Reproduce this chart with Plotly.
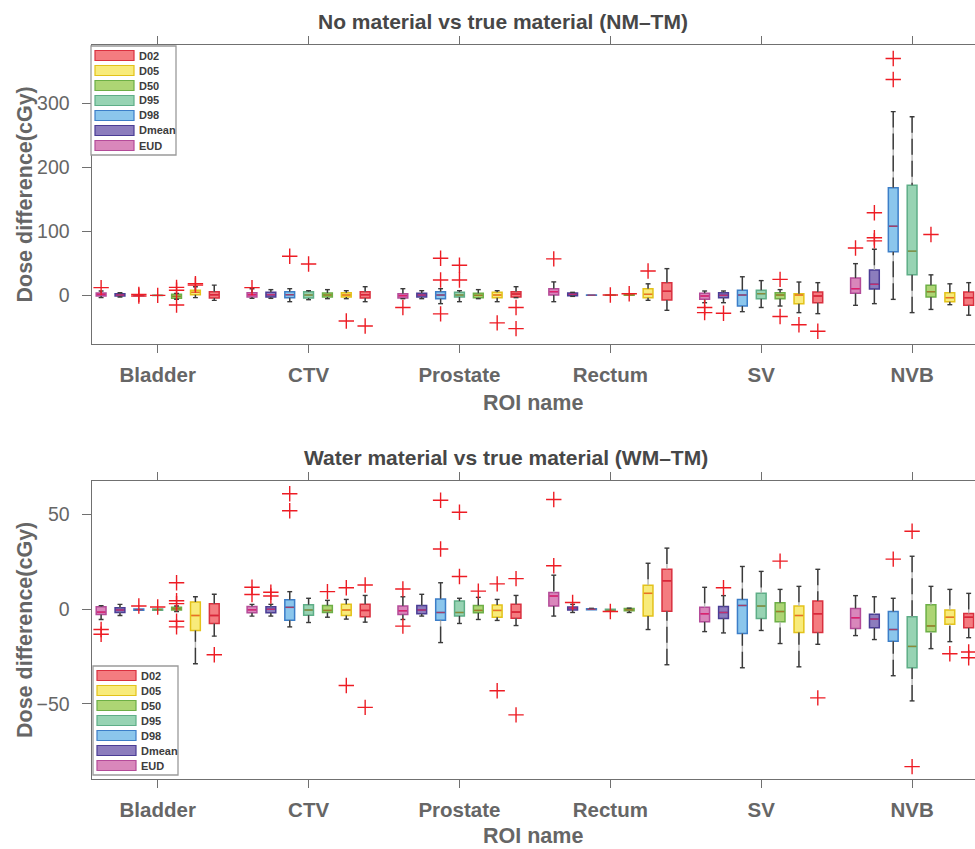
import plotly.graph_objects as go

# ---------------- data ----------------
ROIS = ["Bladder", "CTV", "Prostate", "Rectum", "SV", "NVB"]
# order of the boxes inside each ROI group (left to right)
METRICS = ["EUD", "Dmean", "D98", "D95", "D50", "D05", "D02"]
LEGEND_ORDER = ["D02", "D05", "D50", "D95", "D98", "Dmean", "EUD"]

# ---- No material vs true material (NM-TM); rows follow METRICS, columns follow ROIS
NM_MED = [
    [1.5, 1, -0.5, 5.7, -1, 10.4],
    [0.5, 1, 0.5, 1.6, 0, 17.2],
    [0, 1, 0.5, 0.3, 0.5, 108],
    [0, 0.5, 0.5, 0.3, 2.6, 69],
    [-1.6, 0.5, 0, 0.5, 0.5, 5.7],
    [4.7, 0.5, 0.5, 1.6, 0.5, -3.6],
    [1, 1, 2, 6.3, -1, -3.6],
]
NM_Q1 = [
    [-1, -2.6, -4.2, 0.5, -6.3, 3.1],
    [-1, -2.6, -2.6, -0.5, -3.6, 9.9],
    [-0.5, -3.6, -5.2, 0, -16.7, 68],
    [-0.3, -4.2, -2.6, 0, -5.2, 32],
    [-4.7, -2.6, -3.6, 0, -5.2, -2.6],
    [1, -2.6, -3.6, -3.6, -13, -9.9],
    [-4.2, -4.2, -2.6, -7.3, -11.5, -15.6],
]
NM_Q3 = [
    [3.5, 4.2, 2.6, 10.4, 3.1, 27],
    [2.6, 4.7, 3.1, 3.6, 4.2, 39.6],
    [0.5, 5.7, 5.7, 0.6, 7.8, 168],
    [0.3, 5.7, 4.7, 0.6, 7.8, 172],
    [1.6, 3.6, 3.1, 1.2, 4.2, 15.6],
    [7.8, 4.2, 4.7, 10.4, 2.6, 4.2],
    [5.7, 5.7, 5.7, 19.8, 5.2, 5.2],
]
NM_LO = [
    [-3.6, -4.7, -5.2, -9.9, -11.5, -15.6],
    [-2.6, -4.7, -5.2, -1.6, -11.5, -13],
    [-0.5, -9.9, -13, 0, -25.5, -6.3],
    [-0.3, -6.8, -9.9, 0, -19, -27],
    [-6, -5.2, -5.2, 0, -16.7, -22],
    [-3.6, -5.2, -9.9, -7.8, -27, -14.6],
    [-7.8, -9.9, -3.6, -23.4, -28.6, -31],
]
NM_HI = [
    [6.8, 10.4, 10.4, 21, 6.8, 49.5],
    [4, 8.9, 7.3, 4.7, 6.8, 72],
    [0.5, 10.4, 10.4, 0.6, 29, 287],
    [0.3, 7.3, 7.3, 0.6, 23, 279],
    [3, 8.9, 8.9, 1.2, 8.9, 32],
    [13.5, 7.3, 7.3, 18, 20.8, 18],
    [16, 13.5, 13.5, 41.7, 19.8, 19.8],
]
NM_OUT = [
    [[12], [12], [-19], [57], [-19, -27], [74]],
    [[], [], [], [], [-28], [129, 90, 85]],
    [[-1, 1.5], [61], [58, 24, -29], [], [], [370, 337]],
    [[0], [49], [47, 24], [0.5], [], []],
    [[12.5, 8, -15], [], [], [2.5], [25, -33], [95]],
    [[18, 16], [-40], [-43], [38], [-46], []],
    [[], [-48], [-19, -52], [], [-56], []],
]

# ---- Water material vs true material (WM-TM)
WM_MED = [
    [-1.5, -0.3, -0.8, 7, -2.4, -4.5],
    [-0.4, 0, -0.4, 0.6, -1.7, -5.2],
    [-0.2, 1, -1.7, 0, 2, -10.7],
    [-0.2, -0.4, -1.7, -0.6, 1.7, -19.6],
    [0.3, -0.6, -0.6, -0.3, -1.2, -8.8],
    [-3.3, -0.4, -0.6, 8.4, -3.3, -4.2],
    [-3.3, -0.6, -1.5, 15, -2.4, -4.2],
]
WM_Q1 = [
    [-2.7, -1.9, -2.7, 1.7, -6.6, -10.2],
    [-1.7, -1.9, -2.4, -0.4, -4.9, -9.8],
    [-0.5, -5.8, -5.8, -0.2, -12.8, -16.9],
    [-0.5, -3.1, -3.5, -1, -4.9, -30.9],
    [-0.4, -1.7, -1.9, -0.8, -6.6, -11.9],
    [-11.2, -3.3, -4.2, -3.5, -12.3, -7.9],
    [-7.5, -4, -4.7, -1, -12.3, -9.8],
]
WM_Q3 = [
    [1.3, 1.5, 1.7, 8.9, 1, 0.4],
    [0.8, 1.3, 2, 1.2, 1.5, -2.6],
    [0.1, 5, 5.4, 0.3, 5.2, -1.2],
    [0.2, 2.4, 4.3, 0, 8.4, -4],
    [1, 2, 2, 0.4, 3.5, 2.4],
    [3.8, 2.6, 2.2, 12.7, 1.7, -0.4],
    [2.9, 2.6, 2.6, 21.1, 4.3, -2.2],
]
WM_LO = [
    [-5.4, -3.6, -5.4, -3.6, -11.8, -13.9],
    [-3.3, -3.6, -3.6, -1.7, -12.5, -16],
    [-0.5, -9.3, -17.6, -0.2, -30.9, -35.1],
    [-0.5, -7, -7.5, -1, -11.2, -48.4],
    [-1.2, -4.2, -5.4, -1.7, -18.1, -20.8],
    [-28.8, -5.2, -5.9, -10.7, -30.4, -17.1],
    [-14.2, -6.8, -8.6, -29.3, -18.5, -15],
]
WM_HI = [
    [1.9, 2.6, 6.6, 18, 11.6, 7.2],
    [2.6, 2.6, 7.9, 2.6, 7.2, 6.6],
    [0.1, 9.3, 14, 0.5, 22.6, 5.8],
    [0.2, 5.8, 5.8, 0, 20, 28],
    [1.7, 4.7, 6.3, 0.6, 10.5, 12.1],
    [6.6, 5.2, 5.2, 24.3, 12.1, 10.5],
    [7.9, 7.3, 7.3, 32.3, 21.1, 8.4],
]
WM_OUT = [
    [[-10.7, -13.2], [11.6, 7.8], [10.7, -8.9], [58, 23], [], []],
    [[], [9, 7], [], [3.6], [11.4], []],
    [[1.7], [61, 52], [57.6, 31.8], [], [], [26.5]],
    [[1.2], [], [51.2, 17.3], [-1.2], [], [41.2, -83.1]],
    [[14, 4.5, 3, -6.3, -9.3], [9.3], [9.6], [], [25.4], []],
    [[], [11.4, -40.3], [13.4, -43], [], [], [-23.5]],
    [[-24], [12.8, -51.8], [16.2, -55.8], [], [-46.8], [-22.6, -25.6]],
]

NM_YTICKS = [0, 100, 200, 300]
WM_YTICKS = [-50, 0, 50]

# ---------------- style ----------------
FILL = {"D02": "#F47C80", "D05": "#F8EB7B", "D50": "#ADD574", "D95": "#97D3B3",
        "D98": "#8BC6EC", "Dmean": "#8C7DBD", "EUD": "#D987BB"}
EDGE = {"D02": "#D9303F", "D05": "#E3C21A", "D50": "#6DAF46", "D95": "#5EAE87",
        "D98": "#3C7EC8", "Dmean": "#4A3D95", "EUD": "#B44B99"}
MEDC = {"D02": "#D9263A", "D05": "#E8702A", "D50": "#A07A2A", "D95": "#8A8A3A",
        "D98": "#A0406A", "Dmean": "#C03070", "EUD": "#E0206A"}
FONT = "Liberation Sans, Arial, sans-serif"
GRAY = "#666666"
AXC = "#707070"
W, H = 975, 849
GROUP_STEP = 8
BOX_W = 0.52
CAP_W = 0.26
OUT_RED = "#ED1C24"


def pos(g, k):
    return g * GROUP_STEP + k + 1


fig = go.Figure()

panels = [
    ("x", "y", NM_MED, NM_Q1, NM_Q3, NM_LO, NM_HI, NM_OUT),
    ("x2", "y2", WM_MED, WM_Q1, WM_Q3, WM_LO, WM_HI, WM_OUT),
]

for xa, ya, MED, Q1, Q3, LO, HI, OUT in panels:
    for k, m in enumerate(METRICS):
        xs = [pos(g, k) for g in range(len(ROIS))]
        # whiskers (light underlay + dashed dark overlay), with caps
        wx, wy, cx, cy = [], [], [], []
        for g, p in enumerate(xs):
            if HI[k][g] > Q3[k][g]:
                wx += [p, p, None]
                wy += [HI[k][g], Q3[k][g], None]
                cx += [p - CAP_W / 2, p + CAP_W / 2, None]
                cy += [HI[k][g], HI[k][g], None]
            if LO[k][g] < Q1[k][g]:
                wx += [p, p, None]
                wy += [LO[k][g], Q1[k][g], None]
                cx += [p - CAP_W / 2, p + CAP_W / 2, None]
                cy += [LO[k][g], LO[k][g], None]
        fig.add_trace(go.Scatter(x=wx, y=wy, mode="lines", xaxis=xa, yaxis=ya,
                                 line=dict(color="#B5B5B5", width=1.4),
                                 showlegend=False, hoverinfo="skip"))
        fig.add_trace(go.Scatter(x=wx, y=wy, mode="lines", xaxis=xa, yaxis=ya,
                                 line=dict(color="#3A3A3A", width=1.4, dash="16px,6px"),
                                 showlegend=False, hoverinfo="skip"))
        fig.add_trace(go.Scatter(x=cx, y=cy, mode="lines", xaxis=xa, yaxis=ya,
                                 line=dict(color="#3A3A3A", width=1.4),
                                 showlegend=False, hoverinfo="skip"))
        # boxes
        fig.add_trace(go.Box(
            x=xs, q1=Q1[k], median=MED[k], q3=Q3[k],
            lowerfence=Q1[k], upperfence=Q3[k],
            width=BOX_W, whiskerwidth=0, boxpoints=False,
            fillcolor=FILL[m], line=dict(color=EDGE[m], width=1.5),
            name=m, xaxis=xa, yaxis=ya, showlegend=False, hoverinfo="skip"))
        # medians
        mx, my = [], []
        for g, p in enumerate(xs):
            mx += [p - BOX_W / 2 + 0.04, p + BOX_W / 2 - 0.04, None]
            my += [MED[k][g], MED[k][g], None]
        fig.add_trace(go.Scatter(x=mx, y=my, mode="lines", xaxis=xa, yaxis=ya,
                                 line=dict(color=MEDC[m], width=1.4),
                                 showlegend=False, hoverinfo="skip"))
        # outliers
        ox, oy = [], []
        for g, p in enumerate(xs):
            for v in OUT[k][g]:
                ox.append(p)
                oy.append(v)
        fig.add_trace(go.Scatter(
            x=ox, y=oy, mode="markers", xaxis=xa, yaxis=ya,
            marker=dict(symbol="cross-thin", size=11,
                        line=dict(color=OUT_RED, width=1.4)),
            showlegend=False, hoverinfo="skip"))


# ---------------- layout ----------------
def ptx(px):
    return px / W


def pty(py):
    return 1 - py / H


tickvals = [pos(g, 3) for g in range(len(ROIS))]
x_dom = [ptx(91.7), 1.0]
top_dom = [pty(344), pty(45)]
bot_dom = [pty(779.3), pty(480.7)]
# plot area: x 91.7 -> right edge ; group centre tick (pos 4) at x 157.7, 18.86 px/unit
PX_PER_UNIT = 18.86
x_range = [4 - (157.7 - 91.7) / PX_PER_UNIT, 4 + (W - 157.7) / PX_PER_UNIT]

xcommon = dict(
    domain=x_dom, range=x_range, tickmode="array", tickvals=tickvals,
    ticktext=ROIS, showline=True, linecolor=AXC, linewidth=1.3, mirror="ticks",
    ticks="outside", ticklen=8, tickwidth=1.3, tickcolor=AXC, showgrid=False,
    zeroline=False, ticklabelstandoff=4, automargin=False,
    tickfont=dict(family=FONT, size=20.5, color=GRAY, weight="bold"),
)
ycommon = dict(
    showline=True, linecolor=AXC, linewidth=1.3, mirror=False,
    ticks="outside", ticklen=9, tickwidth=1.3, tickcolor=AXC, showgrid=False,
    zeroline=False, ticklabelstandoff=8, automargin=False,
    tickfont=dict(family=FONT, size=19.5, color=GRAY),
)

fig.update_layout(
    width=W, height=H, margin=dict(l=0, r=0, t=0, b=0),
    paper_bgcolor="white", plot_bgcolor="white", showlegend=False,
    xaxis=dict(anchor="y", **xcommon),
    yaxis=dict(anchor="x", domain=top_dom, range=[-76, 391],
               tickvals=NM_YTICKS, **ycommon),
    xaxis2=dict(anchor="y2", **xcommon),
    yaxis2=dict(anchor="x2", domain=bot_dom, range=[-89.8, 67.9],
                tickvals=WM_YTICKS, **ycommon),
)

annotations = []
shapes = []


def text(px, py, s, size, color, bold=True, angle=0, xanchor="center"):
    annotations.append(dict(
        x=ptx(px), y=pty(py), xref="paper", yref="paper", text=s, showarrow=False,
        xanchor=xanchor, yanchor="middle", textangle=angle,
        font=dict(family=FONT, size=size, color=color, weight="bold" if bold else "normal")))


TITLES = ["No material vs true material (NM\u2013TM)",
          "Water material vs true material (WM\u2013TM)"]
text(503, 22, TITLES[0], 21, "#474747")
text(506, 457, TITLES[1], 21, "#474747")
text(25, 194.5, "Dose difference(cGy)", 21.5, GRAY, angle=-90)
text(25, 630, "Dose difference(cGy)", 21.5, GRAY, angle=-90)
text(533, 403, "ROI name", 21.5, GRAY)
text(533, 836, "ROI name", 21.5, GRAY)

# legends (one per panel)
ROW = 15
for (lx, ly) in [(91, 46), (93, 666)]:
    shapes.append(dict(type="rect", xref="paper", yref="paper",
                       x0=ptx(lx), x1=ptx(lx + 85), y0=pty(ly), y1=pty(ly + 109),
                       line=dict(color="#9A9A9A", width=1.3), fillcolor="white",
                       layer="above"))
    for i, m in enumerate(LEGEND_ORDER):
        cy = ly + 9.5 + ROW * i
        shapes.append(dict(type="rect", xref="paper", yref="paper",
                           x0=ptx(lx + 4), x1=ptx(lx + 43), y0=pty(cy - 5), y1=pty(cy + 5),
                           line=dict(color=EDGE[m], width=1.2), fillcolor=FILL[m],
                           layer="above"))
        text(lx + 46, cy, m, 11, "#3C3C3C", xanchor="left")

fig.update_layout(annotations=annotations, shapes=shapes)
fig.write_html(
    "out.html",
    config={"displayModeBar": False},
    post_script="document.body.style.margin='0';document.body.style.overflow='hidden';",
)
